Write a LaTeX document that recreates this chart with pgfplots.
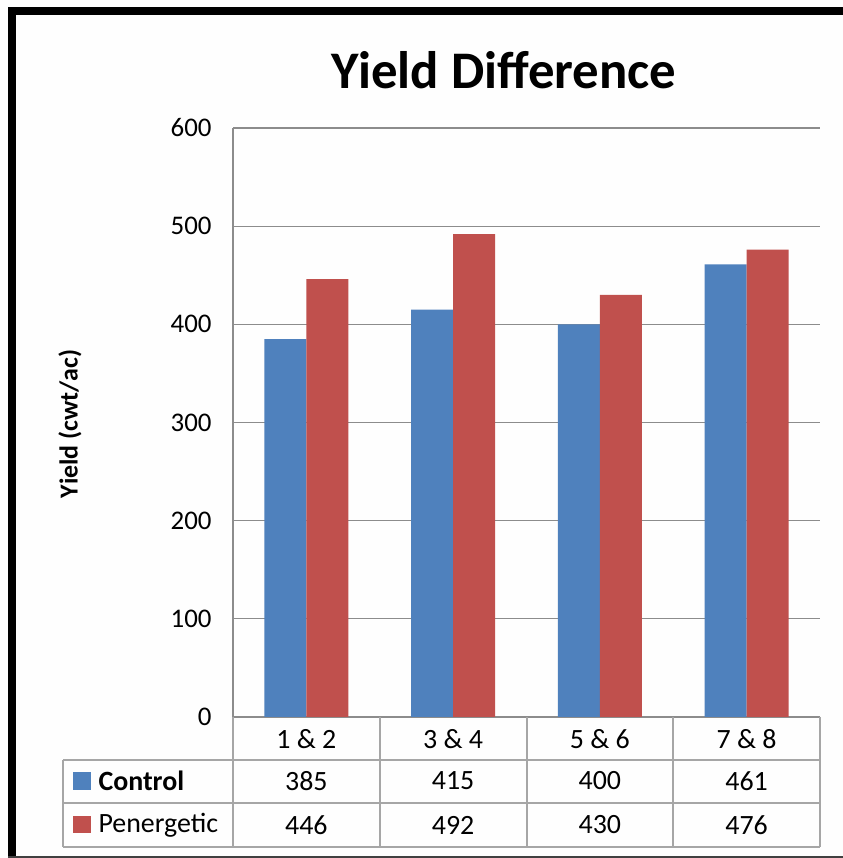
\documentclass[border=0pt]{standalone}
\usepackage{pgfplots}
\pgfplotsset{compat=1.18}
\usepackage{fontspec}
\setmainfont{Carlito}

\definecolor{ctrlblue}{HTML}{4F81BD}
\definecolor{penred}{HTML}{C0504D}
\definecolor{gridgray}{HTML}{8C8C8C}
\definecolor{tabgray}{HTML}{A6A6A6}
\definecolor{paper}{HTML}{FEFEFE}

\begin{document}
\begin{tikzpicture}[x=1bp,y=1bp]
  % page frame, 843 x 858 like the reference
  \fill[paper] (0,0) rectangle (843,858);
  \useasboundingbox (0,0) rectangle (843,858);
  \begin{axis}[
    at={(233bp,141bp)}, anchor=south west,
    scale only axis,
    width=587bp, height=589bp,
    ybar=0pt, bar width=42bp,
    xmin=0.5, xmax=4.5,
    ymin=0, ymax=600,
    xtick=\empty,
    ytick={0,100,...,600},
    ymajorgrids=true,
    grid style={gridgray, line width=1.3pt},
    axis line style={gridgray, line width=1.3pt},
    axis x line*=bottom,
    axis y line*=left,
    major tick length=0pt,
    /pgf/number format/assume math mode=true,
    yticklabel style={font=\fontsize{27}{29}\selectfont, xshift=-18pt},
    clip=false,
    ]
    \addplot[fill=ctrlblue, draw=none] coordinates {(1,385) (2,415) (3,400) (4,461)};
    \addplot[fill=penred, draw=none] coordinates {(1,446) (2,492) (3,430) (4,476)};
  \end{axis}

  % title and y label
  \node[font=\fontsize{53}{56}\selectfont\bfseries] at (504,788) {Yield Difference};
  \node[font=\fontsize{26}{28}\selectfont\bfseries, rotate=90] at (70,434) {Yield (cwt/ac)};

  % data table
  \begin{scope}[tabgray, line width=1.5pt]
    \draw (63,98) -- (820,98);
    \draw (63,55) -- (820,55);
    \draw (63,11) -- (820,11);
    \draw (63,98) -- (63,11);
    \draw (820,141) -- (820,11);
    \foreach \xx in {233,380,527,673} \draw (\xx,141) -- (\xx,11);
  \end{scope}
  \foreach \xx/\cat/\c/\p in {306.4/1 \& 2/385/446, 453.1/3 \& 4/415/492, 599.9/5 \& 6/400/430, 746.6/7 \& 8/461/476} {
    \node[font=\fontsize{28}{30}\selectfont] at (\xx,119) {\cat};
    \node[font=\fontsize{28}{30}\selectfont] at (\xx,77) {\c};
    \node[font=\fontsize{28}{30}\selectfont] at (\xx,33) {\p};
  }
  \fill[ctrlblue] (73,68) rectangle (91,86);
  \fill[penred] (73,25) rectangle (91,42);
  \node[anchor=west, font=\fontsize{28}{30}\selectfont\bfseries] at (95,77) {Control};
  \node[anchor=west, font=\fontsize{28}{30}\selectfont] at (95,33) {Penergetic};

  % outer border
  \fill[black] (8,0) rectangle (16,851);
  \fill[black] (8,843) rectangle (843,851);
  \fill[black!75] (8,0) rectangle (843,2);
\end{tikzpicture}
\end{document}
